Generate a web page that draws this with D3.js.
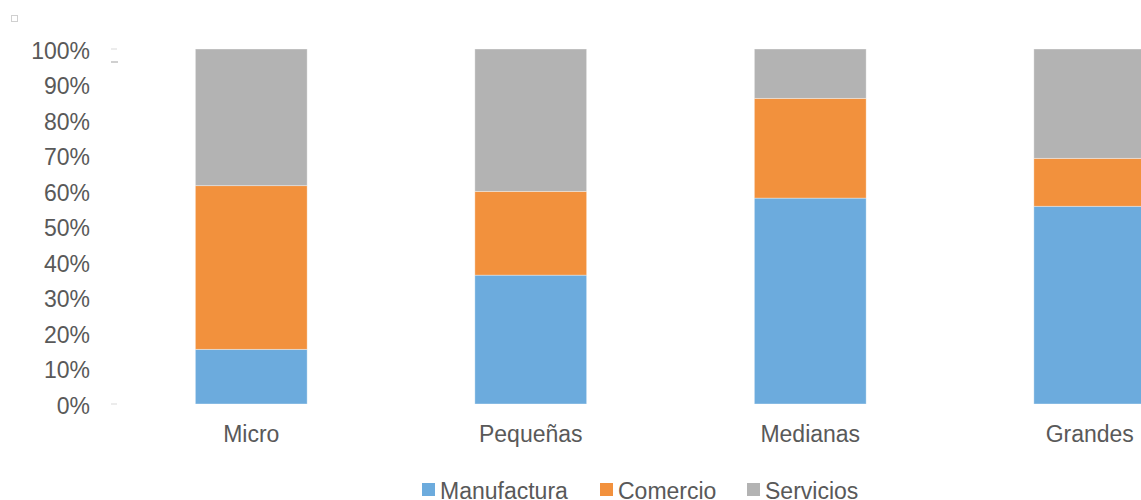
<!DOCTYPE html>
<html><head><meta charset="utf-8">
<script src="https://cdn.jsdelivr.net/npm/d3@7"></script>
<style>body{margin:0;background:#fff;}svg{display:block;font-family:"Liberation Sans",Arial,sans-serif;}</style>
</head><body>
<svg id="c" width="1141" height="500"></svg>
<script>
const categories = ["Micro", "Pequeñas", "Medianas", "Grandes"];
const seriesNames = ["Manufactura", "Comercio", "Servicios"];
const manufactura = [15.4, 36.3, 58.0, 55.7];
const comercio = [46.1, 23.6, 28.1, 13.5];
const servicios = [38.5, 40.1, 13.9, 30.8];
const colors = ["#6CABDD", "#F2913D", "#B3B3B3"];
const yTicks = [0, 10, 20, 30, 40, 50, 60, 70, 80, 90, 100];

const svg = d3.select("#c");
const rows = categories.map((c, i) => ({cat: c, Manufactura: manufactura[i], Comercio: comercio[i], Servicios: servicios[i]}));
const stacked = d3.stack().keys(seriesNames)(rows);

const x = d3.scaleBand().domain(categories).range([111.5, 1229.5]).paddingInner(0.6).paddingOuter(0.3);
const y = d3.scaleLinear().domain([0, 100]).range([404, 49]);

// y axis labels
const ya = svg.append("g").attr("transform", "translate(90,0)")
  .call(d3.axisLeft(y).tickValues(yTicks).tickFormat(d => d + "%").tickSize(0).tickPadding(0));
ya.select(".domain").remove();
ya.selectAll("text").attr("fill", "#595959").attr("dy", "0.4em").style("font-size", "23px").style("font-family", "Liberation Sans, Arial, sans-serif");

// small artifacts
svg.append("rect").attr("x", 11.5).attr("y", 15.5).attr("width", 6).attr("height", 6).attr("fill", "none").attr("stroke", "#d0d0d0");
svg.append("line").attr("x1", 111).attr("x2", 117).attr("y1", y(100)).attr("y2", y(100)).attr("stroke", "#d9d9d9");
svg.append("line").attr("x1", 111).attr("x2", 118).attr("y1", 62).attr("y2", 62).attr("stroke", "#d0d0d0").attr("stroke-width", 2);
svg.append("line").attr("x1", 111).attr("x2", 117).attr("y1", y(0)).attr("y2", y(0)).attr("stroke", "#d9d9d9");

// bars
svg.append("g").selectAll("g").data(stacked).join("g")
  .attr("fill", (d, i) => colors[i])
  .selectAll("rect").data(d => d).join("rect")
  .attr("x", d => x(d.data.cat))
  .attr("width", x.bandwidth())
  .attr("y", d => y(d[1]))
  .attr("height", d => y(d[0]) - y(d[1]))
  .attr("stroke", "rgba(255,255,255,0.45)").attr("stroke-width", 0.8);

// x axis labels
const xa = svg.append("g").attr("transform", "translate(0,442)")
  .call(d3.axisBottom(x).tickSize(0).tickPadding(0));
xa.select(".domain").remove();
xa.selectAll("text").attr("fill", "#595959").attr("dy", "0").style("font-size", "23px").style("font-family", "Liberation Sans, Arial, sans-serif");

// legend
const legendX = [422, 600, 747];
const lg = svg.append("g");
seriesNames.forEach((s, i) => {
  lg.append("rect").attr("x", legendX[i]).attr("y", 483).attr("width", 13).attr("height", 13).attr("fill", colors[i]);
  lg.append("text").attr("x", legendX[i] + 18).attr("y", 499).attr("fill", "#595959").style("font-size", "23px").text(s);
});
</script>
</body></html>
